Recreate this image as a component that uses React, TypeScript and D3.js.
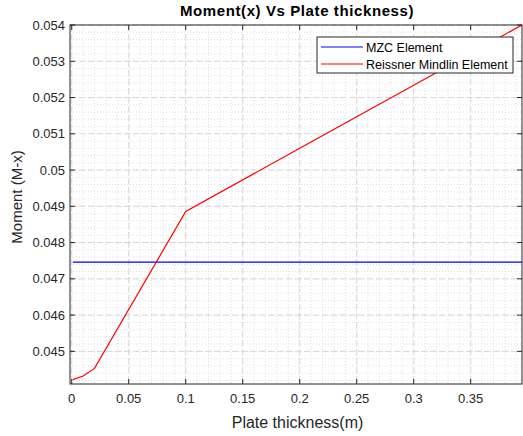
import React from "react";
import * as d3 from "d3";

const thickness = [0.001, 0.01, 0.02, 0.1, 0.2, 0.3, 0.395];
const reissnerMindlin = [0.04422, 0.04432, 0.04453, 0.04886, 0.0506, 0.05234, 0.054];
const mzcThickness = [0.001, 0.395];
const mzc = [0.04746, 0.04746];
const xTicks = [0, 0.05, 0.1, 0.15, 0.2, 0.25, 0.3, 0.35];
const yTicks = [0.045, 0.046, 0.047, 0.048, 0.049, 0.05, 0.051, 0.052, 0.053, 0.054];
const seriesNames = ["MZC Element", "Reissner Mindlin Element"];

const W = 523, H = 436;
const L = 70, R = 522, T = 25, B = 384;
const FONT = "'Liberation Sans', Arial, Helvetica, sans-serif";
const AX = "#262626";

export default function App() {
  const x = d3.scaleLinear().domain([-0.0015, 0.395]).range([L, R]);
  const y = d3.scaleLinear().domain([0.0441, 0.054]).range([B, T]);

  const minorX = d3.range(0, 0.395, 0.01).map(v => +v.toFixed(4));
  const minorY = d3.range(0.0442, 0.054, 0.0002).map(v => +v.toFixed(5));

  const mk = (xs: number[], ys: number[]) =>
    d3.line<number>().x((d, i) => x(xs[i])).y((d) => y(d))(ys) || "";

  const tl = 5;

  return (
    <svg width={W} height={H} style={{ position: "absolute", left: 0, top: 0, background: "#fff" }}>
      <defs>
        <clipPath id="plot">
          <rect x={L} y={T} width={R - L} height={B - T} />
        </clipPath>
      </defs>
      <rect x={0} y={0} width={W} height={H} fill="#fff" />
      <rect x={L} y={T} width={R - L} height={B - T} fill="#fff" />
      {/* minor grid */}
      <g stroke="#d9d9d9" strokeWidth={0.8} strokeDasharray="1,2">
        {minorX.map((v, i) => (
          <line key={"mx" + i} x1={x(v)} x2={x(v)} y1={T} y2={B} />
        ))}
        {minorY.map((v, i) => (
          <line key={"my" + i} x1={L} x2={R} y1={y(v)} y2={y(v)} />
        ))}
      </g>
      {/* major grid */}
      <g stroke="#cfcfcf" strokeWidth={0.8} strokeDasharray="6,3">
        {xTicks.map((v, i) => (
          <line key={"gx" + i} x1={x(v)} x2={x(v)} y1={T} y2={B} />
        ))}
        {yTicks.map((v, i) => (
          <line key={"gy" + i} x1={L} x2={R} y1={y(v)} y2={y(v)} />
        ))}
      </g>
      {/* data */}
      <g clipPath="url(#plot)" fill="none">
        <path d={mk(mzcThickness, mzc)} stroke="#0000ff" strokeWidth={1.2} />
        <path d={mk(thickness, reissnerMindlin)} stroke="#ff0000" strokeWidth={1.2} />
      </g>
      {/* axes box & ticks */}
      <g stroke={AX} strokeWidth={1}>
        <rect x={L} y={T} width={R - L} height={B - T} fill="none" />
        {xTicks.map((v, i) => (
          <g key={"tx" + i}>
            <line x1={x(v)} x2={x(v)} y1={B} y2={B - tl} />
            <line x1={x(v)} x2={x(v)} y1={T} y2={T + tl} />
          </g>
        ))}
        {yTicks.map((v, i) => (
          <g key={"ty" + i}>
            <line x1={L} x2={L + tl} y1={y(v)} y2={y(v)} />
            <line x1={R} x2={R - tl} y1={y(v)} y2={y(v)} />
          </g>
        ))}
      </g>
      {/* tick labels */}
      <g fontFamily={FONT} fontSize={13} fill={AX}>
        {xTicks.map((v, i) => (
          <text key={"lx" + i} x={x(v)} y={B + 19} textAnchor="middle">{d3.format("")(v)}</text>
        ))}
        {yTicks.map((v, i) => (
          <text key={"ly" + i} x={L - 5} y={y(v) + 4.5} textAnchor="end">{d3.format("")(v)}</text>
        ))}
      </g>
      {/* labels */}
      <text x={297} y={16} textAnchor="middle" fontFamily={FONT} fontSize={15} letterSpacing={0.6} fontWeight="bold" fill="#000">
        Moment(x) Vs Plate thickness)
      </text>
      <text x={297.5} y={428} textAnchor="middle" fontFamily={FONT} fontSize={16} fill={AX}>
        Plate thickness(m)
      </text>
      <text transform={`translate(22, 197) rotate(-90)`} textAnchor="middle" fontFamily={FONT} fontSize={15} fill={AX}>
        Moment (M-x)
      </text>
      {/* legend */}
      <g>
        <rect x={317} y={37} width={196} height={36} fill="#fff" stroke={AX} strokeWidth={1} />
        <line x1={321} x2={363} y1={47} y2={47} stroke="#0000ff" strokeWidth={1.2} />
        <line x1={321} x2={363} y1={64} y2={64} stroke="#ff0000" strokeWidth={1.2} />
        <text x={366} y={51.5} fontFamily={FONT} fontSize={12.5} fill="#000">{seriesNames[0]}</text>
        <text x={366} y={68.5} fontFamily={FONT} fontSize={12.5} fill="#000">{seriesNames[1]}</text>
      </g>
    </svg>
  );
}
